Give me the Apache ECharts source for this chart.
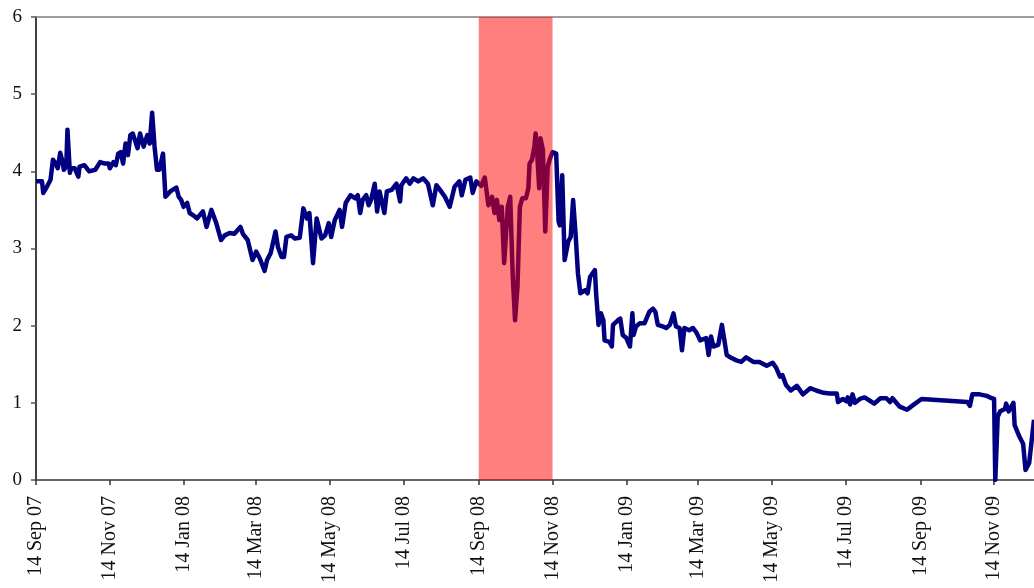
<!DOCTYPE html>
<html>
<head>
<meta charset="utf-8">
<script src="https://cdn.jsdelivr.net/npm/echarts@6.0.0/dist/echarts.min.js"></script>
<style>
html,body{margin:0;padding:0;background:#fff;}
#chart{width:1034px;height:588px;}
</style>
</head>
<body>
<div id="chart"></div>
<script>
const dates = [
'2007-09-14','2007-09-19','2007-09-20','2007-09-23','2007-09-26','2007-09-28','2007-09-30','2007-10-02','2007-10-04','2007-10-06',
'2007-10-07','2007-10-09','2007-10-10','2007-10-12','2007-10-13','2007-10-16','2007-10-19','2007-10-20','2007-10-24','2007-10-28',
'2007-11-02','2007-11-06','2007-11-10','2007-11-13','2007-11-14','2007-11-17','2007-11-19','2007-11-21','2007-11-23','2007-11-25',
'2007-11-27','2007-11-29','2007-12-01','2007-12-03','2007-12-07','2007-12-09','2007-12-12','2007-12-15','2007-12-17','2007-12-19',
'2007-12-21','2007-12-23','2007-12-25','2007-12-28','2007-12-30','2008-01-03','2008-01-08','2008-01-10','2008-01-12','2008-01-14',
'2008-01-17','2008-01-19','2008-01-22','2008-01-25','2008-01-30','2008-02-02','2008-02-06','2008-02-10','2008-02-14','2008-02-17',
'2008-02-21','2008-02-25','2008-03-01','2008-03-03','2008-03-07','2008-03-11','2008-03-14','2008-03-17','2008-03-21','2008-03-23',
'2008-03-26','2008-03-30','2008-04-01','2008-04-04','2008-04-06','2008-04-08','2008-04-12','2008-04-15','2008-04-19','2008-04-22',
'2008-04-25','2008-04-27','2008-04-30','2008-05-03','2008-05-07','2008-05-10','2008-05-13','2008-05-15','2008-05-18','2008-05-22',
'2008-05-24','2008-05-27','2008-05-31','2008-06-04','2008-06-06','2008-06-08','2008-06-10','2008-06-13','2008-06-15','2008-06-17',
'2008-06-20','2008-06-22','2008-06-24','2008-06-28','2008-06-30','2008-07-04','2008-07-08','2008-07-11','2008-07-12','2008-07-16',
'2008-07-19','2008-07-22','2008-07-26','2008-07-30','2008-08-03','2008-08-07','2008-08-10','2008-08-13','2008-08-17','2008-08-21',
'2008-08-25','2008-08-29','2008-08-31','2008-09-03','2008-09-07','2008-09-09','2008-09-12','2008-09-16','2008-09-19','2008-09-22',
'2008-09-25','2008-09-27','2008-09-29','2008-10-01','2008-10-03','2008-10-05','2008-10-08','2008-10-10','2008-10-12','2008-10-14',
'2008-10-16','2008-10-18','2008-10-20','2008-10-23','2008-10-25','2008-10-26','2008-10-28','2008-10-30','2008-10-31','2008-11-01',
'2008-11-03','2008-11-04','2008-11-06','2008-11-08','2008-11-10','2008-11-12','2008-11-14','2008-11-17','2008-11-19','2008-11-20',
'2008-11-22','2008-11-24','2008-11-27','2008-11-29','2008-12-01','2008-12-03','2008-12-05','2008-12-07','2008-12-11','2008-12-13',
'2008-12-15','2008-12-19','2008-12-20','2008-12-22','2008-12-24','2008-12-26','2008-12-27','2008-12-31','2009-01-02','2009-01-03',
'2009-01-07','2009-01-09','2009-01-11','2009-01-14','2009-01-17','2009-01-19','2009-01-20','2009-01-22','2009-01-25','2009-01-29',
'2009-02-02','2009-02-05','2009-02-07','2009-02-09','2009-02-13','2009-02-16','2009-02-19','2009-02-22','2009-02-24','2009-02-27',
'2009-03-01','2009-03-03','2009-03-07','2009-03-10','2009-03-13','2009-03-16','2009-03-21','2009-03-23','2009-03-25','2009-03-27',
'2009-03-31','2009-04-03','2009-04-07','2009-04-11','2009-04-15','2009-04-19','2009-04-23','2009-04-29','2009-05-04','2009-05-10',
'2009-05-15','2009-05-18','2009-05-21','2009-05-23','2009-05-26','2009-05-30','2009-06-04','2009-06-09','2009-06-15','2009-06-20',
'2009-06-26','2009-07-01','2009-07-07','2009-07-08','2009-07-12','2009-07-15','2009-07-16','2009-07-18','2009-07-20','2009-07-22',
'2009-07-26','2009-07-30','2009-08-03','2009-08-07','2009-08-12','2009-08-17','2009-08-20','2009-08-22','2009-08-28','2009-09-03',
'2009-09-08','2009-09-15','2009-10-23','2009-10-25','2009-10-27','2009-11-02','2009-11-08','2009-11-12','2009-11-14','2009-11-15',
'2009-11-17','2009-11-19','2009-11-23','2009-11-24','2009-11-26','2009-11-30','2009-12-01','2009-12-05','2009-12-08','2009-12-09',
'2009-12-10','2009-12-13','2009-12-17'
];
const values = [
3.87,3.87,3.72,3.80,3.89,4.15,4.11,4.04,4.24,4.12,
4.02,4.06,4.54,3.98,4.04,4.04,3.93,4.06,4.08,4.00,
4.02,4.12,4.10,4.10,4.04,4.12,4.08,4.23,4.25,4.10,
4.36,4.21,4.47,4.49,4.30,4.49,4.32,4.47,4.36,4.76,
4.32,4.02,4.02,4.23,3.67,3.74,3.79,3.67,3.63,3.54,
3.59,3.46,3.43,3.39,3.48,3.28,3.50,3.33,3.11,3.17,
3.20,3.19,3.28,3.19,3.11,2.85,2.96,2.87,2.71,2.85,
2.94,3.22,3.02,2.89,2.89,3.15,3.17,3.13,3.14,3.52,
3.39,3.46,2.81,3.39,3.13,3.17,3.33,3.15,3.37,3.50,
3.28,3.59,3.69,3.65,3.69,3.46,3.63,3.69,3.56,3.63,
3.84,3.48,3.74,3.46,3.74,3.76,3.84,3.61,3.82,3.91,
3.84,3.91,3.87,3.91,3.84,3.56,3.82,3.76,3.67,3.54,
3.80,3.87,3.69,3.89,3.92,3.72,3.87,3.81,3.92,3.56,
3.67,3.46,3.63,3.37,3.54,2.81,3.54,3.67,2.68,2.07,
2.50,3.54,3.65,3.65,3.78,4.10,4.15,4.32,4.49,4.32,
3.78,4.43,4.28,3.22,4.06,4.17,4.25,4.23,3.35,3.30,
3.95,2.85,3.09,3.15,3.63,3.20,2.68,2.42,2.46,2.42,
2.63,2.72,2.42,2.01,2.16,2.07,1.81,1.79,1.73,2.01,
2.07,2.09,1.88,1.84,1.73,2.16,1.88,1.99,2.03,2.03,
2.18,2.22,2.18,2.01,1.99,1.97,2.01,2.16,1.99,1.97,
1.68,1.97,1.94,1.97,1.91,1.81,1.84,1.62,1.86,1.73,
1.75,2.01,1.62,1.58,1.55,1.53,1.59,1.53,1.53,1.48,
1.52,1.45,1.34,1.36,1.23,1.16,1.22,1.11,1.19,1.16,
1.13,1.12,1.12,1.01,1.05,1.02,1.07,0.98,1.11,1.00,
1.05,1.07,1.03,0.99,1.06,1.06,1.01,1.06,0.95,0.91,
0.97,1.05,1.01,0.96,1.11,1.11,1.09,1.06,1.05,0.00,
0.82,0.89,0.92,0.99,0.89,1.00,0.71,0.56,0.47,0.30,
0.13,0.22,0.78
];
const tickDates = ['2007-09-14','2007-11-14','2008-01-14','2008-03-14','2008-05-14','2008-07-14','2008-09-14',
  '2008-11-14','2009-01-14','2009-03-14','2009-05-14','2009-07-14','2009-09-14','2009-11-14'];
const axisStart = '2007-09-14';
const axisEnd = '2009-12-17';
const bandStart = '2008-09-14';
const bandEnd = '2008-11-14';
const yMin = 0, yMax = 6, yStep = 1;
const monthNames = ['Jan','Feb','Mar','Apr','May','Jun','Jul','Aug','Sep','Oct','Nov','Dec'];

function ts(s){ const p = s.split('-').map(Number); return Date.UTC(p[0], p[1]-1, p[2]); }
function fmt(v){ const d = new Date(v); return d.getUTCDate() + ' ' + monthNames[d.getUTCMonth()] + ' ' + String(d.getUTCFullYear()).slice(2); }

const seriesData = dates.map((d,i)=>[ts(d), values[i]]);
const tickVals = tickDates.map(ts);
const font = '"Liberation Serif", "DejaVu Serif", serif';

const chart = echarts.init(document.getElementById('chart'), null, {renderer:'canvas'});
chart.setOption({
  animation: false,
  backgroundColor: '#ffffff',
  grid: {left: 36, right: 0, top: 17, bottom: 108},
  xAxis: [{
    type: 'value',
    min: ts(axisStart), max: ts(axisEnd),
    axisLine: {show: true, lineStyle: {color: '#333333', width: 1.5}},
    axisTick: {show: true, length: 5, customValues: tickVals, lineStyle: {color: '#333333', width: 1.5}},
    axisLabel: {show: true, rotate: 90, margin: 16, customValues: tickVals, formatter: fmt,
      fontFamily: font, fontSize: 20, color: '#111111', hideOverlap: false},
    splitLine: {show: false}
  },{
    type: 'value', position: 'top',
    min: ts(axisStart), max: ts(axisEnd),
    axisLine: {show: true, lineStyle: {color: '#7f7f7f', width: 1.5}},
    axisTick: {show: false}, axisLabel: {show: false}, splitLine: {show: false}
  }],
  yAxis: {
    type: 'value', min: yMin, max: yMax, interval: yStep,
    axisLine: {show: true, lineStyle: {color: '#000000', width: 1.5}},
    axisTick: {show: true, length: 5, lineStyle: {color: '#555555', width: 1.5}},
    axisLabel: {margin: 14, fontFamily: font, fontSize: 19, color: '#111111'},
    splitLine: {show: false}
  },
  series: [{
    type: 'line',
    data: seriesData,
    showSymbol: false,
    symbol: 'none',
    lineStyle: {color: '#000080', width: 4.5, join: 'round'},
    z: 2
  },{
    type: 'line',
    data: [],
    showSymbol: false,
    z: 5,
    silent: true,
    markArea: {
      silent: true,
      z: 5,
      itemStyle: {color: 'rgba(255,0,0,0.5)'},
      data: [[{xAxis: ts(bandStart)}, {xAxis: ts(bandEnd)}]]
    }
  }]
});
</script>
</body>
</html>
